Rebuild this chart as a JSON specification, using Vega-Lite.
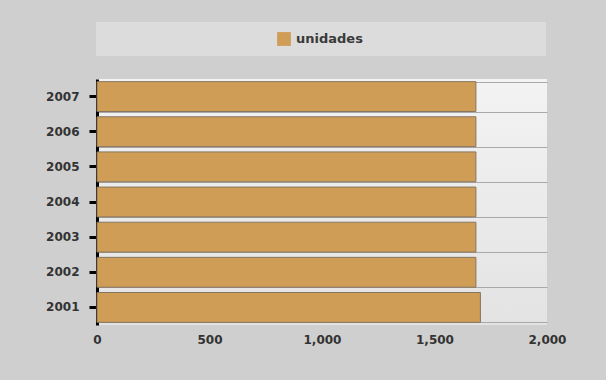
{
  "$schema": "https://vega.github.io/schema/vega-lite/v6.json",
  "width": 450,
  "height": 246,
  "autosize": {"type": "none"},
  "padding": {"left": 97, "top": 79, "right": 59, "bottom": 55},
  "background": "#cfcfcf",
  "config": {
    "view": {
      "stroke": null,
      "fill": {"gradient": "linear", "x1": 0, "y1": 0, "x2": 0, "y2": 1, "stops": [{"offset": 0, "color": "#f3f3f3"}, {"offset": 1, "color": "#e3e3e3"}]}
    },
    "axis": {"labelFont": "DejaVu Sans", "labelFontWeight": "bold", "labelFontSize": 12, "labelColor": "#333333"}
  },
  "data": {
    "values": [
      {"anio": "2001", "unidades": 1704, "serie": "unidades"},
      {"anio": "2002", "unidades": 1684, "serie": "unidades"},
      {"anio": "2003", "unidades": 1684, "serie": "unidades"},
      {"anio": "2004", "unidades": 1684, "serie": "unidades"},
      {"anio": "2005", "unidades": 1684, "serie": "unidades"},
      {"anio": "2006", "unidades": 1684, "serie": "unidades"},
      {"anio": "2007", "unidades": 1684, "serie": "unidades"}
    ]
  },
  "layer": [
    {
      "mark": {"type": "bar", "opacity": 0},
      "encoding": {
        "y": {
          "field": "anio", "type": "ordinal", "sort": "descending",
          "scale": {"paddingInner": 0.15, "paddingOuter": 0.075},
          "axis": {"orient": "left", "title": null, "labels": false, "ticks": false, "domain": false, "grid": true, "tickBand": "extent", "gridColor": "#a9a9a9", "gridWidth": 1, "gridOpacity": 1}
        },
        "x": {
          "field": "unidades", "type": "quantitative",
          "scale": {"domain": [0, 2000]},
          "axis": {"title": null, "values": [0, 500, 1000, 1500, 2000], "format": ",.0f", "labelFlush": false, "grid": false, "domain": false, "ticks": false, "labelPadding": 9}
        }
      }
    },
    {
      "mark": {"type": "bar", "stroke": "#857561", "strokeWidth": 1},
      "encoding": {
        "y": {
          "field": "anio", "type": "ordinal", "sort": "descending",
          "axis": {"orient": "left", "title": null, "grid": false, "domain": true, "domainColor": "#000000", "domainWidth": 3, "ticks": true, "tickColor": "#000000", "tickWidth": 3, "tickSize": 8, "labelPadding": 10}
        },
        "x": {
          "field": "unidades", "type": "quantitative",
          "scale": {"domain": [0, 2000]},
          "axis": {"title": null, "values": [0, 500, 1000, 1500, 2000], "format": ",.0f", "labelFlush": false, "grid": false, "domain": false, "ticks": false, "labelPadding": 9}
        },
        "color": {
          "field": "serie", "type": "nominal",
          "scale": {"range": ["#cf9d55"]},
          "legend": {
            "title": null,
            "orient": "none", "legendX": -1, "legendY": -57,
            "fillColor": "#dcdcdc", "padding": 10,
            "symbolType": "square", "symbolSize": 190, "symbolStrokeWidth": 0, "symbolOffset": 171,
            "labelOffset": 5, "labelFont": "DejaVu Sans", "labelFontWeight": "bold", "labelFontSize": 13, "labelColor": "#3a3a3a",
            "labelLimit": 1000,
            "labelExpr": "pad(datum.label, 25, '\u2800')"
          }
        }
      }
    }
  ],
  "resolve": {"axis": {"y": "independent"}}
}
